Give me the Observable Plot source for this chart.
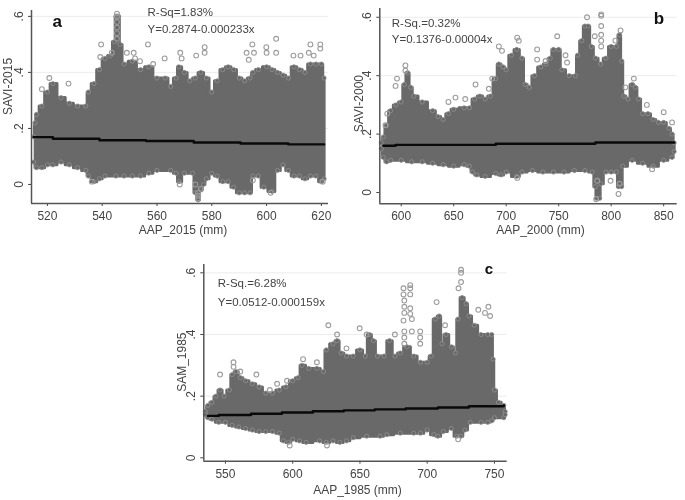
<!DOCTYPE html>
<html>
<head>
<meta charset="utf-8">
<script src="https://cdn.jsdelivr.net/npm/d3@7"></script>
<script src="https://cdn.jsdelivr.net/npm/@observablehq/plot@0.6"></script>
<style>
html,body{margin:0;padding:0;background:#fff;width:685px;height:500px;overflow:hidden}
#root{position:relative;width:685px;height:500px;filter:blur(0.5px)}
#root svg{position:absolute;background:transparent;overflow:visible}
</style>
</head>
<body>
<div id="root"></div>
<script>
// ---------- panel a ----------
const aUpper = [[515,.17],[515.5,.22],[516,.25],[518,.28],[520,.33],[522,.36],[525,.31],[528,.29],[531,.28],[534,.28],[535,.33],[537,.36],[539,.41],[541,.45],[543,.46],[544.5,.51],[545,.6],[546,.6],[546.5,.5],[548,.43],[551,.44],[554,.41],[557,.42],[560,.38],[563,.38],[565,.35],[567,.38],[568,.42],[570,.40],[572,.37],[574,.38],[576,.40],[578,.38],[580,.33],[582,.37],[584,.41],[586,.42],[588,.41],[590,.38],[592,.37],[594,.38],[595,.40],[597,.41],[600,.42],[602,.41],[604,.40],[606,.39],[608,.38],[610,.42],[612,.41],[614,.40],[616,.43],[618,.43],[620,.43],[621,.38]];
const aLower = [[515,.08],[516,.06],[518,.06],[520,.07],[522,.07],[525,.08],[528,.07],[531,.06],[534,.05],[535,.03],[537,.01],[539,.02],[541,.03],[545,.03],[548,.03],[551,.03],[554,.03],[557,.04],[560,.05],[565,.05],[567,.04],[568,.01],[570,.04],[573,.04],[574,-.03],[575,-.055],[576,-.02],[577,.0],[578,.02],[580,.04],[582,.03],[584,.01],[586,.01],[588,-.01],[590,-.03],[592,-.03],[594,-.03],[595,.03],[597,.03],[599,-.01],[602,-.025],[604,.05],[606,.07],[608,.05],[610,.03],[612,.03],[614,.02],[616,.03],[618,.03],[620,.01],[621,.02]];
const aOutliers = [[545.4,.61],[545.4,.60],[545.4,.58],[545.4,.56],[545.4,.54],[545.4,.52],[539.6,.50],[556.7,.50],[577.4,.49],[577.4,.47],[562.8,.45],[574.3,.46],[568.5,.47],[569,.45],[594.8,.50],[599.9,.49],[603.5,.52],[616,.50],[619.6,.50],[619.6,.485],[592.7,.47],[595.4,.47],[593.5,.445],[600,.47],[603.5,.47],[609.8,.46],[612.4,.46],[615.4,.47],[617.2,.46],[551.5,.47],[549,.47],[552,.45],[553.8,.44],[558.6,.43],[527.7,.36],[520.7,.38],[518,.34],[543.5,.47],[539.3,.455],[568.3,0],[574,0],[575,-.05],[575,-.03],[575,-.04],[576,-.015],[601.5,-.03],[595,.015],[620.5,.01],[536.2,.01]];
const aFitX = [515,522,539,556,573.4,590.5,608,621];
const aFitY = [.169,.163,.158,.155,.15,.146,.143,.143];
const aText = ["R-Sq=1.83%","Y=0.2874-0.000233x"];

// ---------- panel b ----------
const bUpper = [[581,.17],[583,.19],[586,.23],[590,.28],[595,.30],[600,.31],[603,.37],[606,.41],[609,.36],[612,.33],[620,.31],[630,.28],[635,.26],[640,.25],[645,.27],[650,.285],[660,.29],[665,.29],[670,.32],[675,.33],[680,.32],[685,.33],[690,.39],[693,.44],[697,.43],[700,.42],[705,.47],[710,.49],[715,.46],[718,.37],[722,.36],[727,.40],[733,.43],[738,.44],[742,.46],[745,.49],[750,.49],[753,.42],[760,.40],[766,.40],[768,.47],[772,.52],[775,.57],[778,.57],[781,.50],[785,.46],[790,.44],[795,.46],[800,.50],[805,.50],[808,.54],[810,.45],[812,.33],[816,.32],[820,.37],[823,.36],[826,.32],[830,.27],[835,.27],[840,.25],[845,.24],[850,.24],[855,.22],[858,.2],[860,.17]];
const bLower = [[581,.15],[583,.12],[586,.105],[590,.11],[600,.11],[610,.105],[620,.105],[630,.1],[640,.095],[650,.09],[660,.095],[665,.09],[668,.07],[672,.06],[680,.055],[690,.065],[695,.06],[700,.07],[710,.055],[715,.07],[725,.075],[735,.07],[745,.07],[755,.07],[765,.075],[775,.075],[782,.07],[785,.02],[786,-.02],[789,-.02],[790,.03],[795,.07],[800,.07],[805,.07],[807,.02],[810,.02],[811,.09],[820,.11],[830,.1],[840,.09],[850,.11],[858,.12],[860,.14]];
const bOutliers = [[790.5,.605],[790.5,.61],[790.5,.57],[790.5,.54],[790.5,.52],[790.5,.5],[777,.6],[604,.435],[604,.417],[596,.39],[594.6,.365],[586.7,.27],[585,.23],[670.8,.37],[661,.32],[645,.31],[651.7,.325],[686.7,.39],[683.5,.355],[693,.5],[696,.485],[710.5,.53],[712,.52],[729.5,.49],[729.5,.455],[737.5,.45],[748.6,.535],[756.5,.47],[758,.445],[784.4,.535],[808.9,.555],[804,.52],[786.7,.04],[785.7,-.023],[807,-.005],[808,.03],[799.4,.04],[710.5,.05],[839,.08],[821.6,.39],[834,.30],[850,.275],[858,.24],[813.5,.36]];
const bFitX = [583,594.6,690,785,860];
const bFitY = [.16,.163,.167,.171,.171];
const bText = ["R-Sq.=0.32%","Y=0.1376-0.00004x"];

// ---------- panel c ----------
const cUpper = [[535,.15],[537,.17],[540,.18],[543,.2],[546,.22],[549,.2],[553,.22],[555,.27],[558,.28],[561,.26],[565,.25],[570,.24],[575,.23],[580,.21],[585,.21],[590,.22],[595,.23],[600,.25],[604,.26],[607,.30],[612,.29],[618,.29],[623,.28],[625,.35],[630,.37],[633,.38],[636,.34],[640,.33],[645,.33],[650,.35],[654,.33],[657,.40],[660,.38],[663,.33],[668,.33],[672,.38],[676,.33],[680,.34],[685,.36],[690,.33],[695,.31],[700,.31],[703,.33],[706,.45],[709,.46],[711,.37],[714,.40],[718,.36],[721,.34],[723,.45],[726,.52],[729,.50],[731,.46],[735,.43],[740,.40],[745,.40],[748,.40],[749,.32],[750,.22],[753,.18],[757,.17],[758,.15]];
const cLower = [[535,.14],[537,.13],[540,.125],[545,.115],[550,.115],[555,.105],[560,.1],[565,.095],[570,.09],[575,.085],[580,.085],[585,.085],[590,.08],[593,.055],[597,.05],[600,.06],[605,.055],[610,.05],[620,.055],[625,.05],[630,.055],[635,.05],[640,.055],[645,.065],[655,.07],[665,.07],[670,.075],[680,.08],[690,.08],[695,.08],[700,.09],[705,.075],[708,.07],[712,.085],[718,.095],[722,.07],[725,.07],[728,.09],[732,.115],[740,.115],[745,.115],[748,.12],[750,.13],[757,.13],[758,.14]];
const cOutliers = [[725.2,.61],[725.2,.6],[725.2,.57],[723.3,.55],[682.4,.55],[687.4,.55],[687.4,.56],[682.4,.53],[687.4,.53],[683,.51],[683,.49],[687.4,.485],[683,.47],[687.4,.467],[682.4,.445],[688.6,.45],[683,.41],[688.6,.41],[694.8,.41],[694.8,.39],[694.8,.37],[683,.39],[683,.37],[626.5,.43],[649.8,.42],[676,.40],[655,.40],[546,.27],[556,.31],[556,.295],[561,.28],[573,.27],[583,.22],[588.4,.24],[595.8,.25],[607.7,.32],[618,.31],[738,.48],[745.5,.49],[746.8,.46],[743,.47],[707,.505],[713.3,.43],[597.8,.04],[625.5,.04],[723,.06],[640,.355],[633,.40]];
const cFitX = [537,545,569,592,615,638,661,684,708,731,757];
const cFitY = [.136,.139,.143,.147,.151,.154,.157,.16,.163,.167,.170];
const cText = ["R-Sq.=6.28%","Y=0.0512-0.000159x"];

const yTicks = [0,.2,.4,.6];
const yTickLabels = ["0",".2",".4",".6"];
const aXTicks = [520,540,560,580,600,620];
const bXTicks = [600,650,700,750,800,850];
const cXTicks = [550,600,650,700,750];

const GREY = "#696969", RING = "#9c9c9c", INK = "#444444", FONT = "'Liberation Sans',Arial,sans-serif";

function panel(o) {
  const cloud = o.upper.concat(o.lower.slice().reverse());
  const rings = o.upper.concat(o.lower);
  const fit = o.fitX.map((x, i) => [x, o.fitY[i]]);
  const plot = Plot.plot({
    width: o.w, height: o.h,
    marginLeft: o.ml, marginTop: o.mt, marginRight: o.mr, marginBottom: o.mb,
    style: {fontFamily: FONT, background: "transparent", color: INK},
    x: {domain: o.xDomain},
    y: {domain: o.yDomain},
    marks: [
      Plot.ruleY(yTicks.slice(1), {stroke: "#ececec", strokeWidth: 1}),
      Plot.line(cloud, {x: "0", y: "1", curve: "step", fill: GREY, stroke: GREY, strokeWidth: 3}),
      Plot.dot(rings, {x: "0", y: "1", r: 2.1, fill: GREY, stroke: "#929292", strokeWidth: 0.8}),
      Plot.dot(o.outliers, {x: "0", y: "1", r: 2.4, fill: "none", stroke: RING, strokeWidth: 1.1}),
      Plot.line(fit, {x: "0", y: "1", curve: "step-after", stroke: "#0a0a0a", strokeWidth: 2.4}),
      Plot.axisX({ticks: o.xTicks, tickSize: 3, tickPadding: 5, fontSize: 12, stroke: INK, fill: INK, label: null}),
      Plot.axisY({ticks: yTicks, tickFormat: (d, i) => yTickLabels[i], tickSize: 3, tickPadding: 6, tickRotate: -90, fontSize: 12, stroke: INK, fill: INK, label: null}),
      Plot.ruleX([o.xDomain[0]], {stroke: "#555", strokeWidth: 1.5}),
      Plot.ruleY([o.yDomain[0]], {stroke: "#555", strokeWidth: 1.5}),
      Plot.text([o.xLabel], {frameAnchor: "bottom", dy: o.mb - 7, dx: o.xLabelDx, fontSize: 12, fill: INK, text: d => d}),
      Plot.text([o.yLabel], {frameAnchor: "left", dx: o.yLabelDx, dy: o.yLabelDy, rotate: -90, fontSize: 12, fill: INK, text: d => d}),
      Plot.text([o.text[0]], {frameAnchor: "top-left", dx: o.tx, dy: o.ty, fontSize: 11.5, textAnchor: "start", fill: INK, text: d => d}),
      Plot.text([o.text[1]], {frameAnchor: "top-left", dx: o.tx, dy: o.ty + o.tGap, fontSize: 11.5, textAnchor: "start", fill: INK, text: d => d}),
      Plot.text([o.letter], {frameAnchor: "top-left", dx: o.lx, dy: o.ly, fontSize: o.lSize, fontWeight: "bold", fill: "#111", textAnchor: "start", text: d => d})
    ]
  });
  plot.style.left = o.left + "px";
  plot.style.top = o.top + "px";
  document.getElementById("root").appendChild(plot);
}

panel({left: 0, top: 0, w: 340, h: 240, ml: 31, mt: 10, mr: 12, mb: 37,
  xDomain: [514.2, 622.6], yDomain: [-.068, .621], xTicks: aXTicks,
  upper: aUpper, lower: aLower, outliers: aOutliers, fitX: aFitX, fitY: aFitY, text: aText,
  xLabel: "AAP_2015 (mm)", yLabel: "SAVI-2015", xLabelDx: 3, yLabelDx: -23, yLabelDy: 8,
  tx: 116, ty: -3, tGap: 17, letter: "a", lx: 21, ly: 4, lSize: 17});

panel({left: 345, top: 0, w: 340, h: 240, ml: 34.3, mt: 8, mr: 8.3, mb: 36.7,
  xDomain: [579.6, 862.9], yDomain: [-.0387, .63], xTicks: bXTicks,
  upper: bUpper, lower: bLower, outliers: bOutliers, fitX: bFitX, fitY: bFitY, text: bText,
  xLabel: "AAP_2000 (mm)", yLabel: "SAVI-2000", xLabelDx: 12, yLabelDx: -21, yLabelDy: 26,
  tx: 12, ty: 10, tGap: 16, letter: "b", lx: 274, ly: 3, lSize: 17});

panel({left: 160, top: 250, w: 360, h: 250, ml: 43.3, mt: 14, mr: 13.3, mb: 39.3,
  xDomain: [533.9, 759.5], yDomain: [-.011, .627], xTicks: cXTicks,
  upper: cUpper, lower: cLower, outliers: cOutliers, fitX: cFitX, fitY: cFitY, text: cText,
  xLabel: "AAP_1985 (mm)", yLabel: "SAM_1985", xLabelDx: 2, yLabelDx: -22, yLabelDy: 29,
  tx: 14, ty: 14, tGap: 19, letter: "c", lx: 281, ly: -1, lSize: 15});
</script>
</body>
</html>
